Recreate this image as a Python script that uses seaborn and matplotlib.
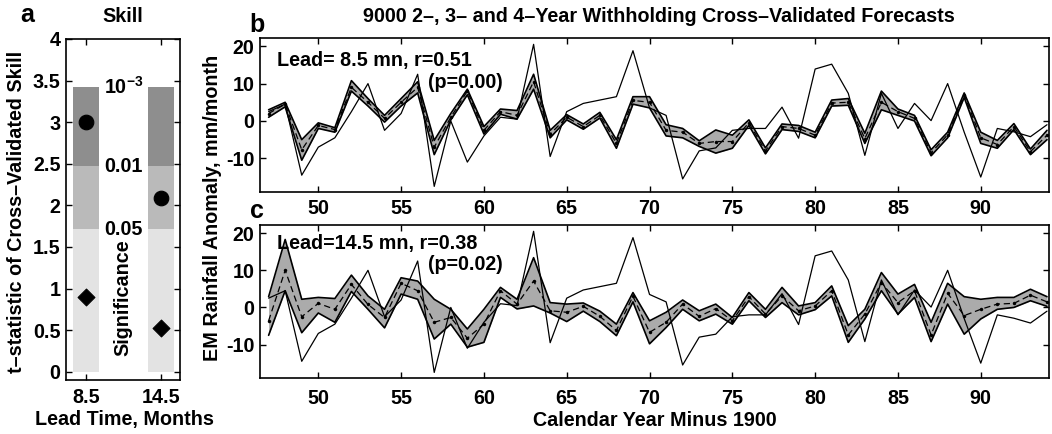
import matplotlib
matplotlib.use('Agg')
import matplotlib.pyplot as plt
import seaborn as sns

# ---------------- data ----------------
years = list(range(47, 95))
obs = [2.5, 4.5, -14.5, -7.0, -4.5, 2.5, 10.0, -2.5, 2.0, 12.5, -17.5, 0.0,
       -11.0, -4.0, 1.0, 0.5, 20.5, -9.5, 2.5, 4.7, 5.6, 6.5, 18.8, 3.5,
       1.5, -15.5, -8.0, -7.2, -2.5, -2.0, -2.0, 3.7, -4.6, 13.9, 15.2, 7.4,
       -9.2, 7.4, -2.0, 4.7, 0.1, 10.0, -3.0, -15.0, -2.0, -2.9, -4.2, -1.0]

b_mean = [2.0, 4.5, -7.7, -1.2, -2.3, 9.0, 5.0, 0.7, 5.0, 9.0, -7.0, 1.0,
          8.0, -2.5, 2.5, 1.5, 10.5, -3.5, 1.0, -1.5, 1.5, -6.0, 5.5, 5.0,
          -2.5, -3.0, -6.0, -5.5, -5.5, -0.5, -8.0, -1.5, -2.0, -3.8, 4.8, 5.0,
          -4.7, 5.0, 2.5, 0.7, -8.5, -3.7, 7.0, -4.5, -6.3, -1.5, -8.2, -3.8]
b_lo = [1.0, 3.8, -10.5, -2.0, -3.0, 8.0, 4.0, -0.3, 4.0, 7.5, -9.0, 0.3,
        7.0, -3.5, 1.8, 0.5, 8.5, -4.5, 0.3, -2.2, 0.8, -7.3, 4.5, 3.5,
        -4.0, -4.5, -6.8, -8.6, -7.3, -1.2, -8.8, -2.3, -2.8, -4.5, 4.0, 4.2,
        -6.0, 3.0, 1.5, 0.0, -9.3, -4.5, 6.3, -6.0, -7.3, -2.3, -9.0, -5.0]
b_hi = [3.0, 5.0, -5.0, -0.5, -1.8, 10.8, 6.0, 1.5, 6.0, 10.5, -5.2, 2.0,
        8.5, -1.5, 3.2, 2.8, 12.5, -2.5, 1.7, -0.8, 2.3, -5.0, 6.5, 6.5,
        -1.0, -2.0, -5.3, -2.4, -3.8, 0.3, -7.2, -0.8, -1.2, -3.0, 5.6, 6.0,
        -3.3, 8.0, 3.2, 1.5, -7.7, -3.0, 7.5, -3.0, -5.2, -0.7, -7.5, -2.5]

c_mean = [-3.6, 10.0, -2.5, 1.1, -0.5, 6.2, 0.8, -2.7, 6.5, 4.5, -4.0, -2.7,
          -8.3, -4.5, 4.5, 0.9, 7.1, -0.9, -1.3, 0.3, -2.4, -6.2, 3.0, -6.7,
          -4.0, 0.9, -2.4, -0.3, -3.6, 2.9, -1.8, 3.1, -0.9, 0.4, 4.5, -7.4,
          -1.8, 6.7, 1.3, 4.5, -7.4, 3.8, -2.2, -0.5, 0.9, 1.1, 3.3, 1.5]
c_lo = [-7.5, 4.5, -6.8, -1.5, -4.0, 4.3, -0.5, -5.5, 3.6, 2.2, -8.5, -4.5,
        -10.7, -9.4, 2.7, -0.4, 0.4, -1.5, -3.8, -1.0, -3.8, -7.6, 1.5, -9.8,
        -5.4, -0.5, -3.6, -1.8, -4.5, 1.8, -2.7, 1.3, -2.0, -0.6, 3.1, -9.4,
        -3.1, 4.5, -1.8, 2.7, -9.2, 0.9, -7.2, -3.1, -0.5, 0.0, 1.8, 0.3]
c_hi = [2.9, 18.3, 2.2, 2.7, 2.4, 8.7, 3.1, -0.5, 8.0, 7.1, 2.2, -0.5,
        -5.8, -0.5, 5.4, 2.2, 13.4, 1.3, 0.9, 1.2, -1.0, -4.5, 4.0, -3.6,
        -1.3, 2.0, -0.9, 0.9, -2.7, 4.0, -0.5, 5.4, 0.4, 1.3, 5.8, -4.9,
        -0.5, 9.4, 3.6, 6.2, -4.0, 6.5, 2.9, 2.2, 2.7, 2.7, 4.9, 2.9]

lead_labels = ['8.5', '14.5']
skill_circle = [3.0, 2.09]
skill_diamond = [0.9, 0.52]
sig_bounds = [0.0, 1.71, 2.47, 3.42]
sig_labels = ['0.05', '0.01', r'$\mathbf{10^{-3}}$']
sig_colors = ['#e3e3e3', '#bababa', '#8e8e8e']

panel_b_text = ['Lead= 8.5 mn, r=0.51', '(p=0.00)']
panel_c_text = ['Lead=14.5 mn, r=0.38', '(p=0.02)']

# ---------------- style ----------------
sns.set_style('ticks')
plt.rcParams['font.family'] = ['Liberation Sans', 'DejaVu Sans']
FS = 14.2
plt.rcParams.update({
    'font.weight': 'bold',
    'axes.labelweight': 'bold',
    'font.size': FS,
    'text.color': 'black',
    'axes.labelcolor': 'black',
    'axes.edgecolor': 'black',
    'xtick.color': 'black',
    'ytick.color': 'black',
    'axes.linewidth': 1.2,
    'axes.unicode_minus': False,
    'mathtext.fontset': 'custom',
    'mathtext.rm': 'Liberation Sans:bold',
    'mathtext.bf': 'Liberation Sans:bold',
    'xtick.direction': 'in',
    'ytick.direction': 'in',
})

W, H = 1052, 434
fig = plt.figure(figsize=(W / 100, H / 100), dpi=100)


def fax(l, t, r, b):
    return fig.add_axes([l / W, 1 - b / H, (r - l) / W, (b - t) / H])


def ft(x, y, s, **kw):
    fig.text(x / W, 1 - y / H, s, **kw)


axa = fax(66, 39, 180, 380)
axb = fax(260, 38, 1049, 192)
axc = fax(260, 225, 1049, 378)

# ---------------- panel a ----------------
xpos = [1, 2]
for i in range(3):
    axa.bar(xpos, [sig_bounds[i + 1] - sig_bounds[i]] * 2, bottom=sig_bounds[i],
            width=0.34, color=sig_colors[i], edgecolor='none', zorder=1)
sns.scatterplot(x=xpos, y=skill_circle, marker='o', s=110, color='k',
                edgecolor='k', ax=axa, zorder=3)
sns.scatterplot(x=xpos, y=skill_diamond, marker='D', s=75, color='k',
                edgecolor='k', ax=axa, zorder=3)
for yb, lab in zip(sig_bounds[1:], sig_labels):
    axa.text(1.5, yb, lab, ha='center', va='center', fontsize=FS,
             fontweight='bold', zorder=4)
axa.text(1.49, 0.89, 'Significance', rotation=90, ha='center', va='center',
         fontsize=FS, fontweight='bold')
axa.set_xlim(0.735, 2.255)
axa.set_ylim(-0.1, 4.0)
axa.set_xticks(xpos)
axa.set_xticklabels(lead_labels)
yt = [0, 0.5, 1, 1.5, 2, 2.5, 3, 3.5, 4]
axa.set_yticks(yt)
axa.set_yticklabels([f'{v:g}' for v in yt])
axa.tick_params(direction='in', top=True, right=True, length=4, width=1,
                labelsize=FS)
axa.tick_params(axis='x', pad=6)
axa.tick_params(axis='y', pad=4)
for s in axa.spines.values():
    s.set_visible(True)

# ---------------- panels b, c ----------------
for ax, mean, lo, hi in [(axb, b_mean, b_lo, b_hi), (axc, c_mean, c_lo, c_hi)]:
    ax.fill_between(years, lo, hi, color='#ababab', lw=0, zorder=1)
    sns.lineplot(x=years, y=lo, color='k', lw=1.2, ax=ax, zorder=2)
    sns.lineplot(x=years, y=hi, color='k', lw=1.2, ax=ax, zorder=2)
    sns.lineplot(x=years, y=mean, color='k', lw=0.9, ax=ax, zorder=3,
                 linestyle=(0, (5, 3)), marker='o', markersize=2.5,
                 markeredgewidth=0)
    sns.lineplot(x=years, y=obs, color='k', lw=0.9, ax=ax, zorder=4)
    ax.set_xlim(46.48, 94.12)
    ax.set_ylim(-19.0, 22.2)
    ax.set_xticks([50, 55, 60, 65, 70, 75, 80, 85, 90])
    ax.set_yticks([-10, 0, 10, 20])
    ax.set_yticklabels(['-10', '0', '10', '20'])
    ax.tick_params(direction='in', top=True, right=True, length=4, width=1,
                   labelsize=FS)
    ax.tick_params(axis='y', pad=4)
    ax.set_xlabel('')
    ax.set_ylabel('')
    for s in ax.spines.values():
        s.set_visible(True)
axb.tick_params(axis='x', pad=5)
axc.tick_params(axis='x', pad=8)

axb.text(0.0215, 0.857, panel_b_text[0], transform=axb.transAxes,
         ha='left', va='center', fontsize=FS, fontweight='bold')
axb.text(0.213, 0.714, panel_b_text[1], transform=axb.transAxes,
         ha='left', va='center', fontsize=FS, fontweight='bold')
axc.text(0.0215, 0.882, panel_c_text[0], transform=axc.transAxes,
         ha='left', va='center', fontsize=FS, fontweight='bold')
axc.text(0.213, 0.739, panel_c_text[1], transform=axc.transAxes,
         ha='left', va='center', fontsize=FS, fontweight='bold')

# ---------------- figure texts ----------------
ft(27, 15, 'a', fontsize=18, fontweight='bold', ha='center', va='center')
ft(123, 16, 'Skill', fontsize=FS, fontweight='bold', ha='center', va='center')
ft(257, 25, 'b', fontsize=18, fontweight='bold', ha='center', va='center')
ft(257, 211, 'c', fontsize=18, fontweight='bold', ha='center', va='center')
ft(659, 17, '9000 2\u2013, 3\u2013 and 4\u2013Year Withholding Cross\u2013Validated Forecasts',
   fontsize=FS, fontweight='bold', ha='center', va='center')
ft(17, 212, 't\u2013statistic of Cross\u2013Validated Skill', rotation=90,
   fontsize=FS, fontweight='bold', ha='center', va='center')
ft(124, 420, 'Lead Time, Months', fontsize=FS, fontweight='bold',
   ha='center', va='center')
ft(213, 208, 'EM Rainfall Anomaly, mm/month', rotation=90, fontsize=FS,
   fontweight='bold', ha='center', va='center')
ft(655, 421, 'Calendar Year Minus 1900', fontsize=FS, fontweight='bold',
   ha='center', va='center')

fig.savefig('out.png', dpi=100)
